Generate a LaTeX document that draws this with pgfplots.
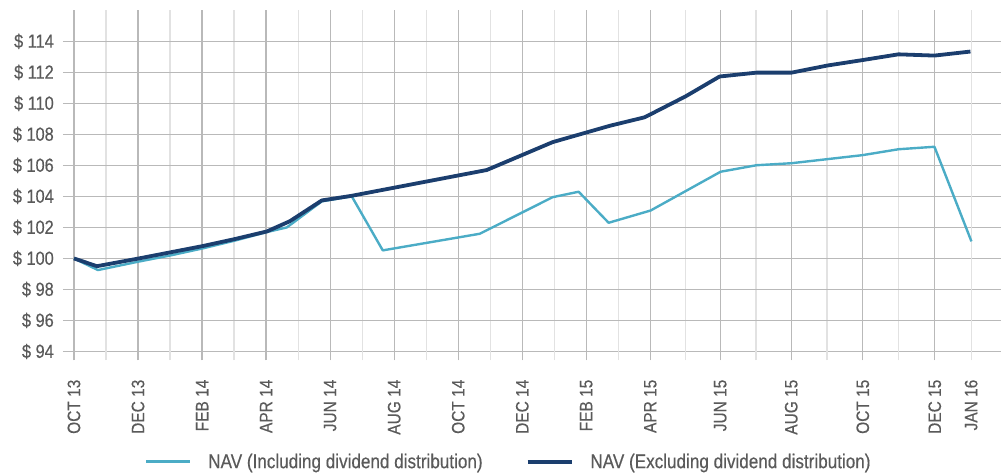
\documentclass[border=0pt]{standalone}
\usepackage{pgfplots}
\pgfplotsset{compat=1.18}
\usepackage{fontspec}
\setmainfont{Liberation Sans}[FakeStretch=0.86, FakeBold=0.4]
\definecolor{incl}{RGB}{75,172,198}
\definecolor{excl}{RGB}{27,62,110}
\definecolor{txt}{RGB}{90,90,90}
\definecolor{gmaj}{RGB}{185,185,185}
\definecolor{gmin}{RGB}{226,226,226}
\begin{document}
\begin{tikzpicture}
\begin{axis}[
  scale only axis, width=939pt, height=341.4pt,
  xmin=63, xmax=1002, ymin=94, ymax=116,
  axis line style={draw=none},
  tick pos=left,
  ytick={94,96,...,114},
  yticklabels={\$ 94,\$ 96,\$ 98,\$ 100,\$ 102,\$ 104,\$ 106,\$ 108,\$ 110,\$ 112,\$ 114},
  xtick={74,138.1,202.2,266.2,330.3,394.4,458.5,522.6,586.6,650.7,720.7,791.7,863.3,935.3},
  xticklabels={OCT 13,DEC 13,FEB 14,APR 14,JUN 14,AUG 14,OCT 14,DEC 14,FEB 15,APR 15,JUN 15,AUG 15,OCT 15,DEC 15},
  minor xtick={106,170.1,234.2,298.3,362.4,426.4,490.5,554.6,618.7,686,756.5,827.5,899.3},
  extra x ticks={971.7},
  extra x tick labels={JAN 16},
  extra x tick style={major grid style={draw=gmin, line width=1.2pt}, major tick style={draw=gmin, line width=1.2pt}},
  xmajorgrids, xminorgrids, ymajorgrids,
  major grid style={draw=gmaj, line width=1.2pt},
  minor grid style={draw=gmin, line width=1.2pt},
  tick align=outside,
  major tick length=9pt, minor tick length=9pt,
  major tick style={draw=gmaj, line width=1.2pt},
  minor tick style={draw=gmin, line width=1.2pt},
  ytick style={draw=none},
  xticklabel shift=19pt,
  xticklabel style={rotate=90, anchor=east, inner sep=0pt, font=\fontsize{18}{18}\selectfont, text=txt},
  yticklabel style={inner sep=0pt, font=\fontsize{19}{19}\selectfont, text=txt},
  legend columns=2,
  legend style={at={(0.475,-0.323)}, anchor=center, draw=none, fill=none,
    font=\fontsize{19.9}{19.9}\selectfont, text=txt, inner sep=0pt,
    /tikz/every odd column/.append style={column sep=15pt},
    /tikz/every even column/.append style={column sep=41pt}},
  legend image code/.code={\draw[#1] (0pt,0pt) -- (44pt,0pt);},
]
\addplot[incl, line width=2.4pt, line join=round] coordinates {
(74,100.0) (98,99.25) (139,99.8) (171,100.2) (203,100.65) (235,101.15) (267,101.7)
(287,102.0) (322,103.68) (352,104.0) (383,100.52) (480,101.59) (553,103.95) (579,104.3)
(609,102.3) (651,103.09) (721,105.59) (757,106.01) (792,106.14) (863,106.66) (899,107.04)
(935,107.2) (972,101.1)};
\addlegendentry{NAV (Including dividend distribution)}
\addplot[excl, line width=3.8pt, line join=round] coordinates {
(74,100.0) (97,99.5) (139,100.0) (171,100.4) (203,100.8) (235,101.25) (267,101.74)
(290,102.4) (322,103.74) (352,104.04) (487,105.7) (553,107.5) (610,108.55) (645,109.1)
(686,110.45) (720,111.73) (757,111.98) (792,111.98) (828,112.44) (864,112.8) (899,113.16)
(935,113.08) (971,113.34)};
\addlegendentry{NAV (Excluding dividend distribution)}
\end{axis}
\path (-63pt,-121.3pt) rectangle (939pt,351.7pt);
\end{tikzpicture}
\end{document}
